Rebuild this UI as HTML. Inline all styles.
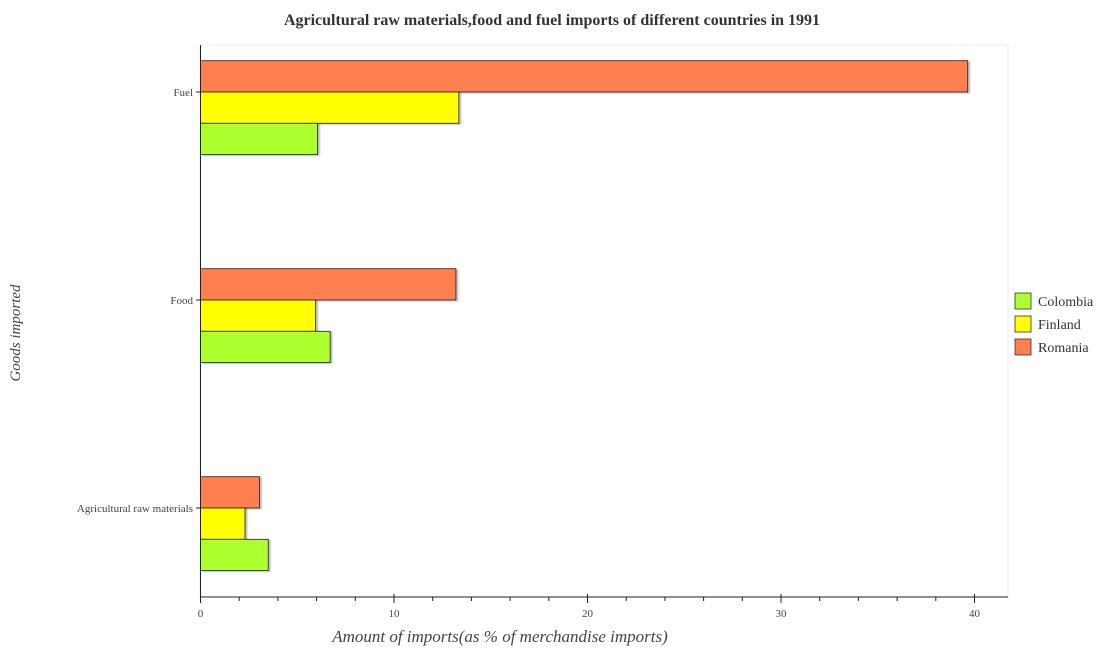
<!DOCTYPE html>
<html><head><meta charset="utf-8"><style>
body{margin:0;background:#fff;font-family:"Liberation Serif",serif;}
</style></head><body>
<svg width="1105" height="650" xmlns="http://www.w3.org/2000/svg">
<defs><filter id="sh" x="-5%" y="-5%" width="115%" height="125%"><feDropShadow dx="2" dy="1" stdDeviation="0.8" flood-color="#000" flood-opacity="0.25"/></filter></defs>
<text x="552" y="25" text-anchor="middle" font-size="16" font-weight="bold" fill="#333">Agricultural raw materials,food and fuel imports of different countries in 1991</text>
<rect x="200" y="45" width="808" height="552" fill="#fff" stroke="#eee"/>
<g id="bars"></g>
<g id="axis"></g>
<text x="500" y="642" text-anchor="middle" font-size="17" font-style="italic" fill="#444">Amount of imports(as % of merchandise imports)</text>
<text transform="translate(20,333) rotate(-90)" text-anchor="middle" font-size="15" font-style="italic" fill="#444">Goods imported</text>
<g id="legend"></g>
</svg>
<script>
const categories=["Agricultural raw materials","Food","Fuel"];
const series=["Colombia","Finland","Romania"];
const colombia=[3.5,6.7,6.05];
const finland=[2.3,5.95,13.35];
const romania=[3.05,13.2,39.65];
const ticks=[0,10,20,30,40];
const colors=["#adff2f","#ffff00","#ff7f50"];
const vals=[colombia,finland,romania];
const ns="http://www.w3.org/2000/svg";
const X=v=>200.5+v*19.35;
const tickY=[508,300,92];
const bh=31.3;
const bars=document.getElementById('bars');
categories.forEach((c,i)=>{
  [2,1,0].forEach((s,k)=>{
    const r=document.createElementNS(ns,'rect');
    const y=tickY[i]-bh+k*bh;
    r.setAttribute('x',X(0));r.setAttribute('y',y);
    r.setAttribute('width',X(vals[s][i])-X(0));r.setAttribute('height',bh);
    r.setAttribute('fill',colors[s]);r.setAttribute('stroke','#222');r.setAttribute('stroke-width','0.8');
    r.setAttribute('filter','url(#sh)');
    
    
    bars.appendChild(r);
  });
  const t=document.createElementNS(ns,'text');
  t.setAttribute('x',193);t.setAttribute('y',tickY[i]+4);
  t.setAttribute('text-anchor','end');t.setAttribute('font-size','11');t.setAttribute('fill','#444');
  t.textContent=c;
  
  
  bars.appendChild(t);
});
const ax=document.getElementById('axis');
let h='<line x1="200.5" y1="45" x2="200.5" y2="597" stroke="#222"/><line x1="200" y1="597" x2="1008" y2="597" stroke="#222"/>';
tickY.forEach(y=>{h+=`<line x1="196" y1="${y}" x2="200.5" y2="${y}" stroke="#222"/>`;});
for(let v=0;v<=40;v+=2){h+=`<line x1="${X(v)}" y1="${v%10?597:594}" x2="${X(v)}" y2="${v%10?601:603}" stroke="#222"/>`;}
ax.innerHTML=h;
ticks.forEach(v=>{
  const t=document.createElementNS(ns,'text');
  t.setAttribute('x',X(v));t.setAttribute('y',617);t.setAttribute('text-anchor','middle');
  t.setAttribute('font-size','11');t.setAttribute('fill','#444');t.textContent=v;
  
  
  ax.appendChild(t);
});
const lg=document.getElementById('legend');
series.forEach((s,i)=>{
  const y=293+i*23;
  const r=document.createElementNS(ns,'rect');
  r.setAttribute('x',1015);r.setAttribute('y',y);r.setAttribute('width',16);r.setAttribute('height',16);
  r.setAttribute('fill',colors[i]);r.setAttribute('stroke','#333');r.setAttribute('stroke-width','0.8');
  
  
  lg.appendChild(r);
  const t=document.createElementNS(ns,'text');
  t.setAttribute('x',1038);t.setAttribute('y',y+13);t.setAttribute('font-size','14');t.setAttribute('fill','#333');
  t.textContent=s;
  
  
  lg.appendChild(t);
});
</script>
</body></html>
